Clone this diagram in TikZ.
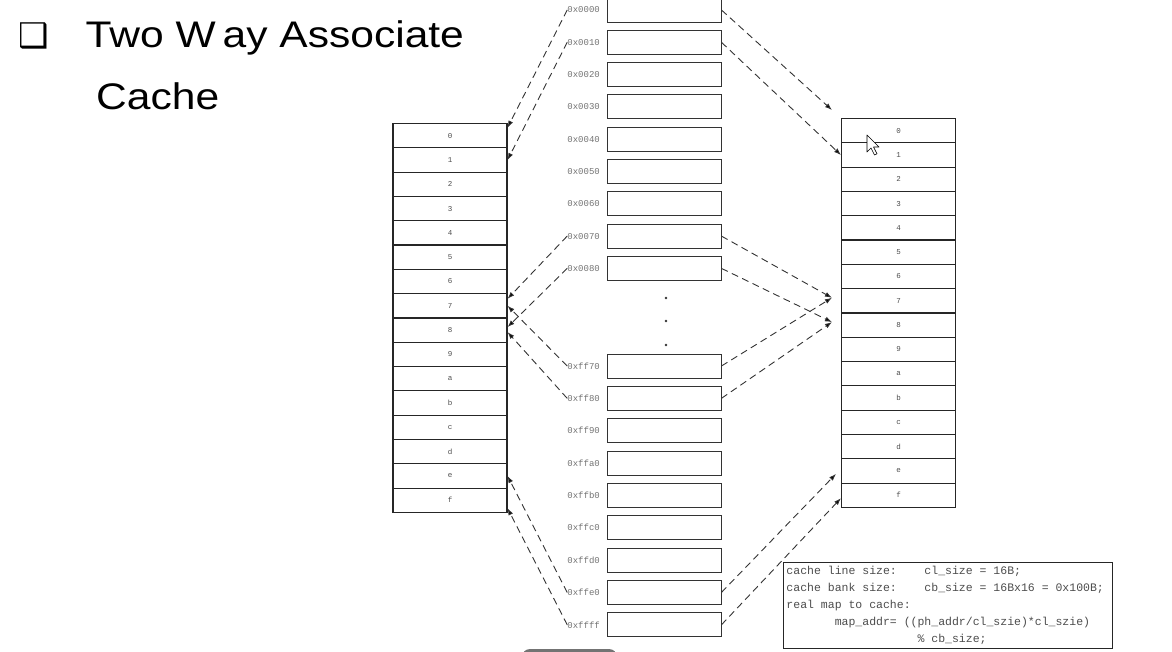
\documentclass[tikz,border=0pt]{standalone}
\usepackage{fontspec}
\setmainfont{Liberation Sans}
\newfontfamily\headfont[FakeStretch=1.15]{Liberation Sans}
\newfontfamily\addrfont{Liberation Mono}
\newfontfamily\symfont{DejaVu Sans}
\newcommand\notefont{\addrfont\fontsize{11.5}{17}\selectfont}
\newcommand\monospaces{\spaceskip=0.6em\relax}
\usetikzlibrary{arrows.meta,calc}

\tikzset{
  slot/.style={draw=black!80,line width=0.9pt,fill=white,minimum width=114pt,minimum height=24pt,inner sep=0pt},
  cline/.style={draw=black!85,line width=1.1pt,minimum width=114pt,minimum height=24.3pt,inner sep=0pt,
    font=\addrfont\fontsize{7.5}{8}\selectfont,text=black!70},
  addr/.style={anchor=east,inner sep=0pt,font=\addrfont\fontsize{9}{10}\selectfont,text=black!55},
  map/.style={draw=black!80,line width=0.9pt,dash pattern=on 7pt off 4.5pt,
    -{Latex[length=7pt,width=5pt,fill=black]}},
  heading/.style={anchor=base west,inner sep=0pt,font=\headfont\fontsize{37}{40}\selectfont},
}

\begin{document}
\begin{tikzpicture}[x=1pt,y=-1pt]
\useasboundingbox (0,0) rectangle (1172,652);

\node[heading] (title) at (18,48) {{\symfont\fontsize{34}{40}\selectfont ❑}\hspace{37pt}Two W\kern7pt ay Associate};
\node[heading] (title2) at (96,110) {Cache};

\foreach \t [count=\i from 0] in {0x0000,0x0010,0x0020,0x0030,0x0040,0x0050,0x0060,0x0070,0x0080} {
  \node[slot] (a\i) at (664,{10+32.3*\i}) {};
  \node[addr] (la\i) at (600,{10+32.3*\i}) {\t};
}
\foreach \t [count=\i from 0] in {0xff70,0xff80,0xff90,0xffa0,0xffb0,0xffc0,0xffd0,0xffe0,0xffff} {
  \node[slot] (b\i) at (664,{366+32.35*\i}) {};
  \node[addr] (lb\i) at (600,{366+32.35*\i}) {\t};
}
\foreach \y in {298,321,345}
  \fill[black!80] (666,\y) circle (1.3pt);

\foreach \t [count=\i from 0] in {0,1,2,3,4,5,6,7,8,9,a,b,c,d,e,f} {
  \node[cline,anchor=north] (L\t) at (450,{123+24.3*\i}) {\t};
  \node[cline,anchor=north] (R\t) at (898.5,{118+24.3*\i}) {\t};
}

\draw[map] (la0.west) -- ($(L0.east)+(0,-8)$);
\draw[map] (la1.west) -- (L1.east);
\draw[map] (la7.west) -- ($(L7.east)+(0,-7)$);
\draw[map] (la8.west) -- ($(L8.east)+(0,-3)$);
\draw[map] (lb0.west) -- (L7.east);
\draw[map] (lb1.west) -- ($(L8.east)+(0,2)$);
\draw[map] (lb7.west) -- (Le.east);
\draw[map] (lb8.west) -- ($(Lf.east)+(0,8)$);

\draw[map] (a0.east) -- ($(R0.north west)+(-9,-8)$);
\draw[map] (a1.east) -- (R1.west);
\draw[map] (a7.east) -- ($(R7.west)+(-9,-3)$);
\draw[map] (a8.east) -- ($(R8.west)+(-9,-3)$);
\draw[map] (b0.east) -- ($(R7.west)+(-9,-3)$);
\draw[map] (b1.east) -- ($(R8.west)+(-9,-3)$);
\draw[map] (b7.east) -- ($(Re.west)+(-5,3)$);
\draw[map] (b8.east) -- ($(Rf.west)+(0,3)$);

\node[draw=black!85,line width=0.9pt,anchor=north west,inner xsep=3pt,inner ysep=1pt,
  text width=323pt,minimum height=86pt,align=left,text=black!70,font=\notefont] (note) at (783,562)
  {\monospaces cache line size:~~~~cl\_size = 16B;\\
   cache bank size:~~~~cb\_size = 16Bx16 = 0x100B;\\
   real map to cache:\\
   ~~~~~~~map\_addr= ((ph\_addr/cl\_szie)*cl\_szie)\\
   ~~~~~~~~~~~~~~~~~~~\% cb\_size;};

\draw[fill=white,line width=0.6pt,line join=round] (867,135) -- ++(0,17) -- ++(4,-4)
  -- ++(3.5,7) -- ++(2.5,-1.2) -- ++(-3.5,-6.8) -- ++(5.5,0) -- cycle;

\begin{scope}
\clip (0,0) rectangle (1172,652);
\fill[black!55,rounded corners=8pt] (522,649) rectangle (617,670);
\end{scope}
\end{tikzpicture}
\end{document}
